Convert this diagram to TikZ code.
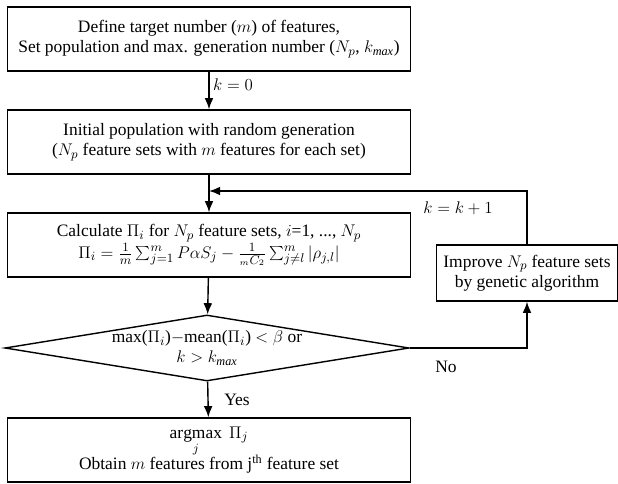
\documentclass[tikz,border=0pt]{standalone}
\usepackage{fontspec}
\setmainfont{Liberation Serif}
\usetikzlibrary{shapes.geometric, arrows, arrows.meta, positioning}

\begin{document}
\begin{tikzpicture}[
    x=0.025cm, y=-0.025cm,
    % Define styles
    process/.style={rectangle, draw, line width=1pt, minimum width=10.075cm, minimum height=1.6cm, align=center, font=\fontsize{12.4}{14.2}\selectfont},
    side_process/.style={rectangle, draw, line width=1pt, minimum width=4.525cm, minimum height=1.4cm, align=center, font=\fontsize{12.4}{14.2}\selectfont},
    decision/.style={diamond, draw, line width=1pt, minimum width=10.1cm, minimum height=1.65cm, aspect=6.1, inner sep=0pt},
    line/.style={-, line width=1pt},
    arrow/.style={-{Latex[length=2.8mm, width=2.2mm]}, line width=1pt},
    lbl/.style={font=\fontsize{12.4}{14.2}\selectfont}
]
\useasboundingbox (0,0) rectangle (618,484);

% Main steps
\node[process] (define) at (209,39) {Define target number ($m$) of features,\\
    Set population and max. generation number ($N_p$, $k_{\mathit{max}}$)};
\node[process] (init) at (209,142) {Initial population with random generation\\
    ($N_p$ feature sets with $m$ features for each set)};
\node[process] (calc) at (209,245) {Calculate $\Pi_i$ for $N_p$ feature sets, $i$=1, ..., $N_p$\\[1pt]
    $\Pi_i=\frac{1}{m}\sum_{j=1}^{m}P\alpha S_j-\frac{1}{{}_mC_2}\sum_{j\neq l}^{m}|\rho_{j,l}|$};
\node[decision] (check) at (207,348) {};
\node[lbl, align=center] (check_text) at (check.center) {max($\Pi_i$)$-$mean($\Pi_i$) $<\beta$ or\\ $k>k_{\mathit{max}}$};
\node[process] (result) at (209,450) {$\displaystyle\mathop{\mathrm{argmax}}\limits_j\ \Pi_j$\\[-2pt]
    Obtain $m$ features from j\textsuperscript{th} feature set};

% Genetic algorithm step
\node[side_process] (improve) at (527,273) {Improve $N_p$ feature sets\\ by genetic algorithm};

% Merge point of the loop
\coordinate (merge) at (209,191);

% Connect steps
\draw[arrow] (define) -- (init);
\draw[line] (init) -- (merge);
\draw[arrow] (merge) -- (calc);
\draw[arrow] (calc) -- (check);
\draw[arrow] (check) -- (result);
\draw[arrow] (check.east) -| (improve.south);
\draw[arrow] (improve.north) |- (merge);

% Branch labels
\node[lbl] at (233,85) {$k=0$};
\node[lbl] at (458,208) {$k=k+1$};
\node[lbl] at (237,400) {Yes};
\node[lbl] at (446,367) {No};

\end{tikzpicture}
\end{document}
